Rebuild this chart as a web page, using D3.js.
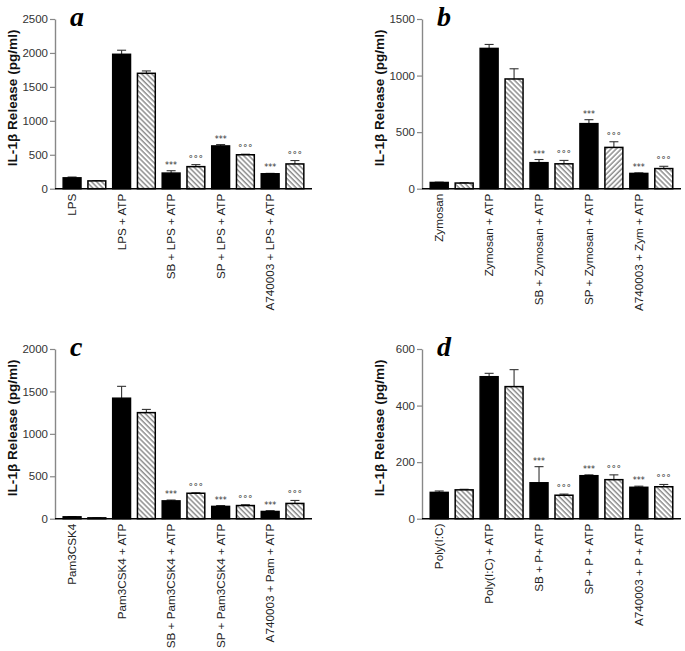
<!DOCTYPE html>
<html>
<head>
<meta charset="utf-8">
<script src="https://cdn.jsdelivr.net/npm/d3@7"></script>
<style>
  body { margin: 0; background: #fff; }
  svg { display: block; font-family: "Liberation Sans", Arial, sans-serif; }
</style>
</head>
<body>
<div id="chart"></div>
<script>
// values (pg/ml)
const labelsA = ["LPS", "LPS + ATP", "SB + LPS + ATP", "SP + LPS + ATP", "A740003 + LPS + ATP"];
const solidA = [160, 1980, 230, 630, 220];
const solidErrA = [12, 60, 35, 20, 6];
const hatchA = [115, 1700, 325, 500, 365];
const hatchErrA = [4, 35, 30, 8, 50];
const ticksA = [0, 500, 1000, 1500, 2000, 2500];

const labelsB = ["Zymosan", "Zymosan + ATP", "SB + Zymosan + ATP", "SP + Zymosan + ATP", "A740003 + Zym + ATP"];
const solidB = [55, 1240, 230, 575, 135];
const solidErrB = [3, 35, 28, 35, 5];
const hatchB = [50, 970, 220, 365, 178];
const hatchErrB = [3, 90, 30, 50, 20];
const ticksB = [0, 500, 1000, 1500];

const labelsC = ["Pam3CSK4", "Pam3CSK4 + ATP", "SB + Pam3CSK4 + ATP", "SP + Pam3CSK4 + ATP", "A740003 + Pam + ATP"];
const solidC = [22, 1420, 210, 145, 85];
const solidErrC = [3, 140, 10, 10, 10];
const hatchC = [10, 1250, 300, 155, 180];
const hatchErrC = [2, 38, 5, 10, 35];
const ticksC = [0, 500, 1000, 1500, 2000];

const labelsD = ["Poly(I:C)", "Poly(I:C) + ATP", "SB + P+ ATP", "SP + P + ATP", "A740003 + P + ATP"];
const solidD = [93, 502, 127, 152, 111];
const solidErrD = [5, 12, 57, 3, 4];
const hatchD = [102, 467, 83, 138, 113];
const hatchErrD = [2, 60, 4, 17, 8];
const ticksD = [0, 200, 400, 600];

const solidMarks = ["", "", "***", "***", "***"];
const hatchMarks = ["", "", "\u00b0\u00b0\u00b0", "\u00b0\u00b0\u00b0", "\u00b0\u00b0\u00b0"];

const width = 685, height = 651;

const svg = d3.select("#chart").append("svg")
  .attr("width", width)
  .attr("height", height)
  .attr("viewBox", [0, 0, width, height]);

// hatch patterns: "\" and "/"
const defs = svg.append("defs");
[["hatchBack", -45], ["hatchFwd", 45]].forEach(([id, angle]) => {
  defs.append("pattern")
    .attr("id", id)
    .attr("patternUnits", "userSpaceOnUse")
    .attr("width", 3.6)
    .attr("height", 3.6)
    .attr("patternTransform", `rotate(${angle})`)
    .call(p => p.append("rect").attr("width", 3.6).attr("height", 3.6).attr("fill", "#fff"))
    .call(p => p.append("line")
      .attr("x1", 1).attr("y1", 0).attr("x2", 1).attr("y2", 3.6)
      .attr("stroke", "#555").attr("stroke-width", 1));
});

const panels = [
  {letter: "a", labels: labelsA, solid: solidA, solidErr: solidErrA, hatch: hatchA, hatchErr: hatchErrA, ticks: ticksA,
   left: 55, right: 312, top: 19, bottom: 188.7, fwd: []},
  {letter: "b", labels: labelsB, solid: solidB, solidErr: solidErrB, hatch: hatchB, hatchErr: hatchErrB, ticks: ticksB,
   left: 422, right: 681, top: 19, bottom: 188.7, fwd: [3]},
  {letter: "c", labels: labelsC, solid: solidC, solidErr: solidErrC, hatch: hatchC, hatchErr: hatchErrC, ticks: ticksC,
   left: 55, right: 312, top: 349, bottom: 518.7, fwd: []},
  {letter: "d", labels: labelsD, solid: solidD, solidErr: solidErrD, hatch: hatchD, hatchErr: hatchErrD, ticks: ticksD,
   left: 422, right: 681, top: 349, bottom: 518.7, fwd: []}
];

panels.forEach(p => {
  const g = svg.append("g");

  const rows = [];
  p.labels.forEach((lab, i) => {
    rows.push({key: i * 2, label: lab, value: p.solid[i], err: p.solidErr[i], kind: "solid", mark: solidMarks[i]});
    rows.push({key: i * 2 + 1, label: lab, value: p.hatch[i], err: p.hatchErr[i], kind: "hatch", mark: hatchMarks[i],
               fwd: p.fwd.includes(i)});
  });

  const x = d3.scaleBand()
    .domain(rows.map(d => d.key))
    .range([p.left, p.right])
    .paddingInner(0.28)
    .paddingOuter(0.33);

  const y = d3.scaleLinear()
    .domain([0, d3.max(p.ticks)])
    .range([p.bottom, p.top]);

  // y axis
  g.append("g")
    .attr("transform", `translate(${p.left},0)`)
    .call(d3.axisLeft(y).tickValues(p.ticks).tickFormat(d3.format("d")).tickSize(5).tickSizeOuter(0).tickPadding(2))
    .call(a => a.select(".domain").attr("stroke", "#888").attr("stroke-width", 1.4))
    .call(a => a.selectAll(".tick line").attr("stroke", "#888").attr("stroke-width", 1.2))
    .call(a => a.selectAll(".tick text").attr("font-size", 11.5).attr("fill", "#333")
      .attr("font-family", "'Liberation Sans', Arial, sans-serif"));

  // y title
  g.append("text")
    .attr("transform", `translate(${p.left - 38},${(p.top + p.bottom) / 2 - 6}) rotate(-90)`)
    .attr("text-anchor", "middle")
    .attr("font-size", 13.6)
    .attr("font-weight", "bold")
    .attr("fill", "#111")
    .text("IL-1\u03b2 Release (pg/ml)");

  // panel letter
  g.append("text")
    .attr("x", p.left + 15)
    .attr("y", p.top + 7)
    .attr("font-family", "'Liberation Serif', 'Times New Roman', serif")
    .attr("font-style", "italic")
    .attr("font-weight", "bold")
    .attr("font-size", 28)
    .text(p.letter);

  // error bars
  const eb = g.append("g").attr("stroke", "#333").attr("stroke-width", 1.1);
  rows.forEach(d => {
    const cx = x(d.key) + x.bandwidth() / 2;
    eb.append("line").attr("x1", cx).attr("x2", cx).attr("y1", y(d.value)).attr("y2", y(d.value + d.err));
    eb.append("line").attr("x1", cx - 4.5).attr("x2", cx + 4.5).attr("y1", y(d.value + d.err)).attr("y2", y(d.value + d.err));
  });

  // bars
  g.append("g")
    .selectAll("rect")
    .data(rows)
    .join("rect")
    .attr("x", d => x(d.key))
    .attr("y", d => y(d.value))
    .attr("width", x.bandwidth())
    .attr("height", d => y(0) - y(d.value))
    .attr("fill", d => d.kind === "solid" ? "#000" : (d.fwd ? "url(#hatchFwd)" : "url(#hatchBack)"))
    .attr("stroke", "#000")
    .attr("stroke-width", 1.5);

  // significance marks
  g.append("g")
    .selectAll("text")
    .data(rows.filter(d => d.mark))
    .join("text")
    .attr("x", d => x(d.key) + x.bandwidth() / 2)
    .attr("y", d => y(d.value + d.err) - 3)
    .attr("text-anchor", "middle")
    .attr("font-family", "'DejaVu Sans', sans-serif")
    .attr("font-size", d => d.kind === "solid" ? 8 : 9)
    .attr("letter-spacing", d => d.kind === "solid" ? 0 : 0.5)
    .attr("fill", "#333")
    .text(d => d.mark);

  // x axis line
  g.append("line")
    .attr("x1", p.left).attr("x2", p.right)
    .attr("y1", y(0)).attr("y2", y(0))
    .attr("stroke", "#000").attr("stroke-width", 1.5);

  // category labels under the solid bars
  g.append("g")
    .selectAll("text")
    .data(rows.filter(d => d.kind === "solid"))
    .join("text")
    .attr("transform", d => `translate(${x(d.key) + x.bandwidth() / 2 + 4},${y(0) + 5}) rotate(-90)`)
    .attr("text-anchor", "end")
    .attr("font-size", 11.7)
    .attr("fill", "#222")
    .text(d => d.label);
});
</script>
</body>
</html>
